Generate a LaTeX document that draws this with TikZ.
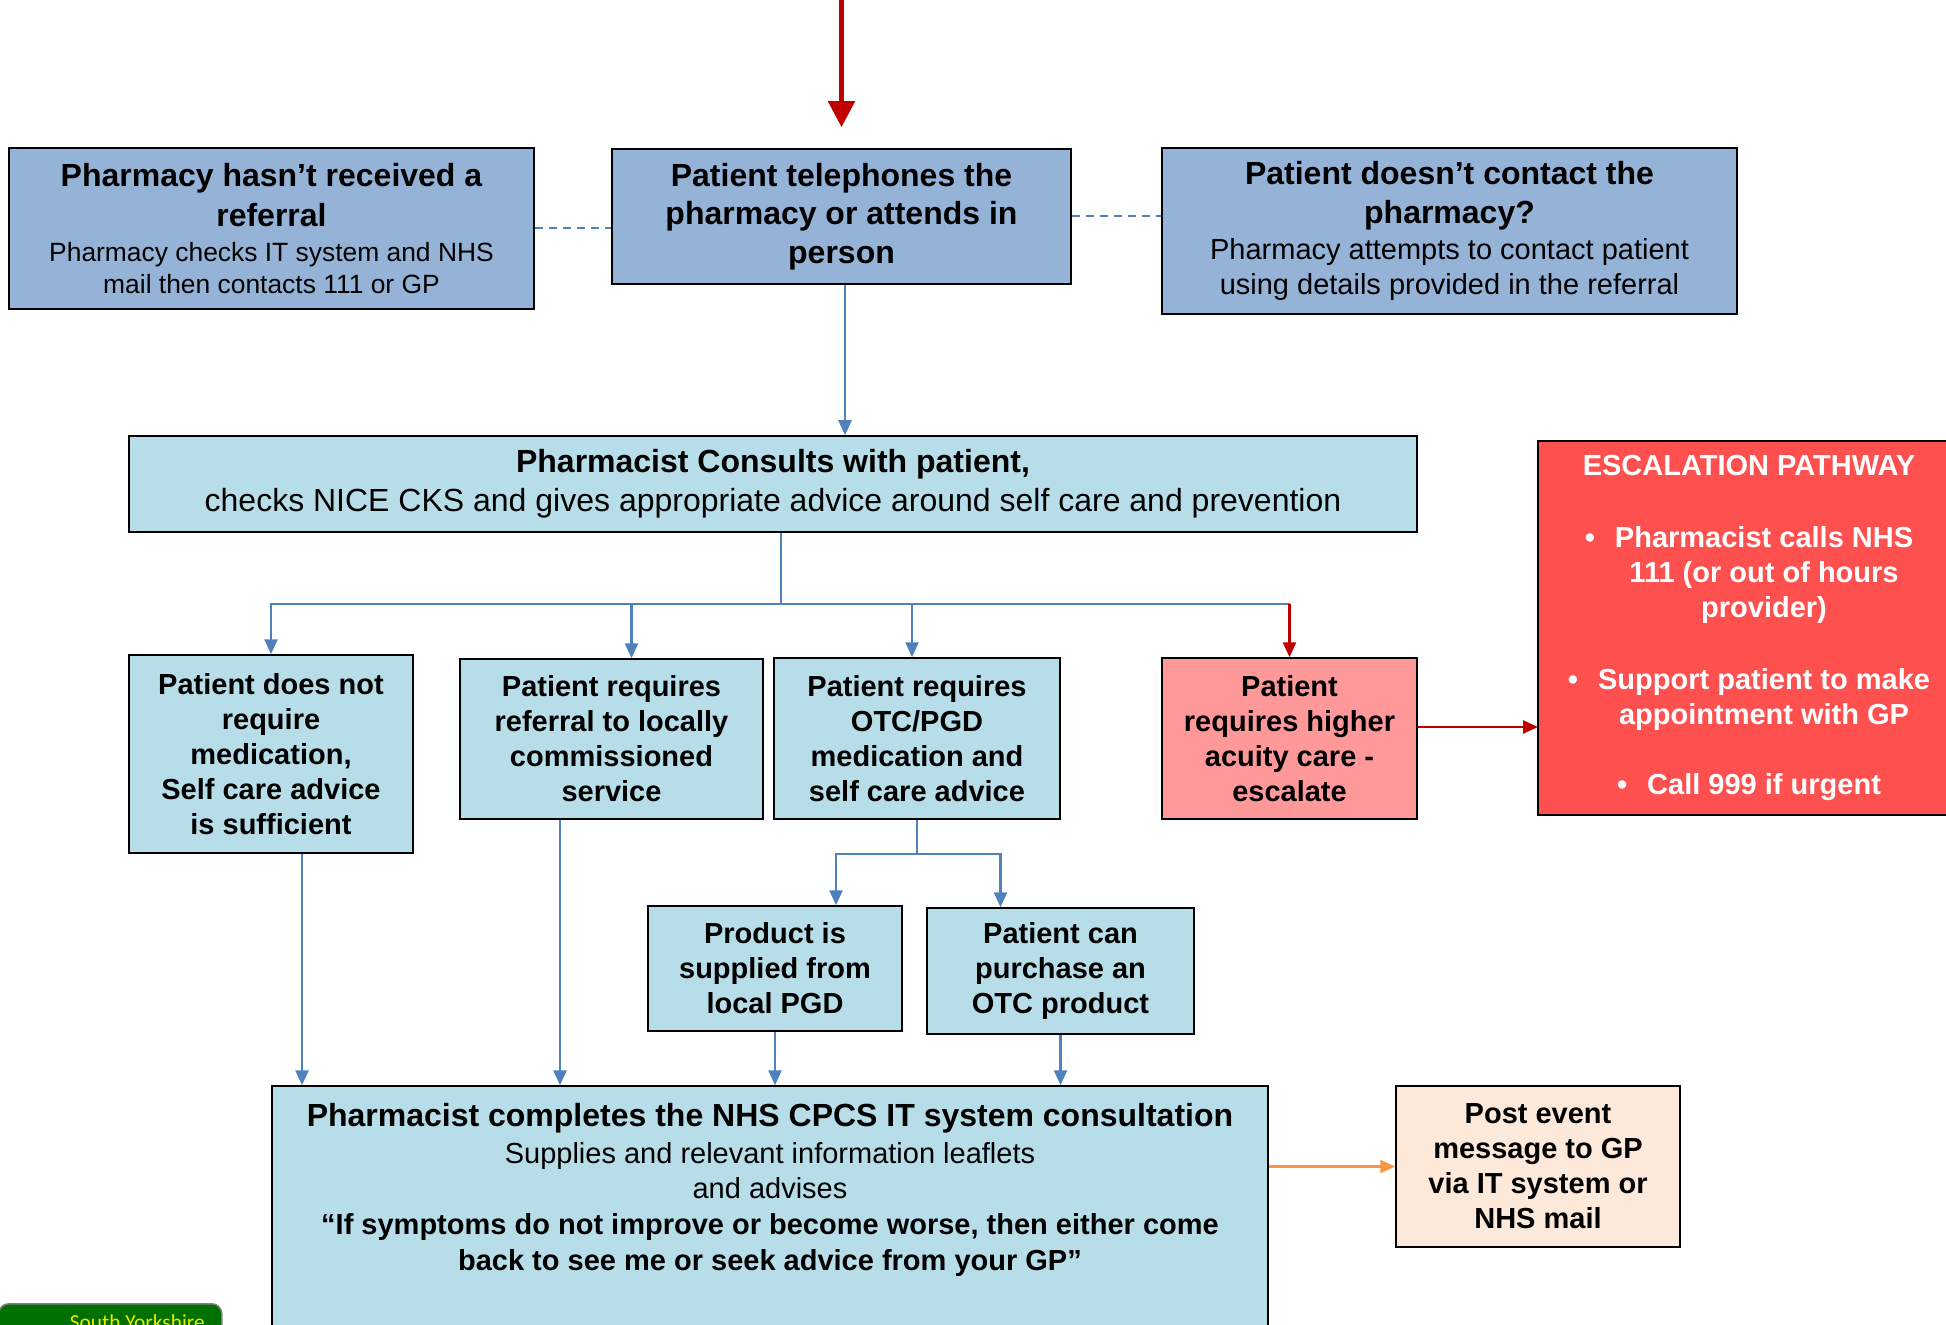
\documentclass[tikz,border=0pt]{standalone}
\usepackage{fontspec}
\setmainfont{Liberation Sans}
\newfontfamily\logofont{Carlito}
\usetikzlibrary{arrows.meta}

\definecolor{topblue}{RGB}{149,179,215}
\definecolor{paleblue}{RGB}{183,222,232}
\definecolor{linkblue}{RGB}{79,129,189}
\definecolor{alarmred}{RGB}{255,80,80}
\definecolor{softred}{RGB}{255,153,153}
\definecolor{darkred}{RGB}{192,0,0}
\definecolor{peach}{RGB}{253,233,217}
\definecolor{amber}{RGB}{247,150,70}
\definecolor{logogreen}{RGB}{0,112,0}
\definecolor{logoyellow}{RGB}{235,235,0}

\newcommand{\headfont}{\fontsize{16}{17.5}\selectfont\bfseries}
\newcommand{\bodyfont}{\fontsize{14.5}{17.5}\selectfont\bfseries}
\newcommand{\plainfont}{\fontsize{14.5}{17.5}\selectfont\mdseries}
\newcommand{\smallplain}{\fontsize{13.2}{17.5}\selectfont\mdseries}

\tikzset{every picture/.style={line width=0.75pt}}
\tikzset{
  querybox/.style={draw=black, fill=topblue, inner sep=0pt, align=center, font=\headfont},
  carebox/.style={draw=black, fill=paleblue, inner sep=0pt, align=center, font=\bodyfont},
  alertbox/.style={draw=black, fill=softred, inner sep=0pt, align=center, font=\bodyfont},
  escbox/.style={draw=black, fill=alarmred, text=white, inner sep=0pt, align=center, font=\bodyfont},
  notebox/.style={draw=black, fill=peach, inner sep=0pt, align=center, font=\bodyfont},
  flowline/.style={draw=linkblue, line width=1.25pt},
  flowarrow/.style={flowline, -{Triangle[width=6.5pt,length=7.5pt]}},
  alertarrow/.style={draw=darkred, line width=1.25pt, -{Triangle[width=6.5pt,length=7.5pt]}},
  notearrow/.style={draw=amber, line width=1.25pt, -{Triangle[width=6.5pt,length=7.5pt]}},
  dashlink/.style={draw=linkblue, line width=1pt, dash pattern=on 4pt off 3pt},
  entryarrow/.style={draw=darkred, line width=2.5pt, -{Triangle[width=13pt,length=13pt]}, shorten >=10.5pt},
}

\begin{document}
\begin{tikzpicture}[x=0.5pt,y=0.5pt,yscale=-1,xscale=1]
%set diagram left start at 0, and has height of 1325
\path[use as bounding box] (0,0) rectangle (1946,1325);
\clip (0,0) rectangle (1946,1325);

%Shape: Rectangle - first contact
\node[querybox, minimum width=229.5pt, minimum height=67.5pt] (phone) at (841.5,216.5) {Patient telephones the\\[1.75pt]pharmacy or attends in\\[1.75pt]person};
%Shape: Rectangle - no referral
\node[querybox, minimum width=262.5pt, minimum height=80.5pt] (hasnt) at (271.5,228.5) {Pharmacy hasn’t received a\\[2.5pt]referral\\\smallplain Pharmacy checks IT system and NHS\\[-1.5pt]\smallplain mail then contacts 111 or GP};
%Shape: Rectangle - no contact
\node[querybox, minimum width=287.5pt, minimum height=83pt] (nocontact) at (1449.5,231) {Patient doesn’t contact the\\[1.75pt]pharmacy?\\[0.5pt]\plainfont Pharmacy attempts to contact patient\\\plainfont using details provided in the referral};

%Shape: Rectangle - consultation
\node[carebox, font=\headfont, minimum width=644pt, minimum height=48pt] (consult) at (773,484) {Pharmacist Consults with patient,\\[2pt]\fontsize{16}{17.5}\selectfont\mdseries checks NICE CKS and gives appropriate advice around self care and prevention};

%Shape: Rectangle - escalation
\node[escbox, minimum width=211pt, minimum height=187pt] (escalate) at (1749,628) {ESCALATION PATHWAY\\[18.5pt]\textbullet\hspace{10pt}Pharmacist calls NHS\\\hspace*{15pt}111 (or out of hours\\\hspace*{15pt}provider)\\[18.5pt]\textbullet\hspace{10pt}Support patient to make\\\hspace*{15pt}appointment with GP\\[17.5pt]\textbullet\hspace{10pt}Call 999 if urgent};

%Shape: Rectangle - outcomes
\node[carebox, minimum width=142pt, minimum height=99pt] (nomed) at (271,754) {Patient does not\\require\\medication,\\Self care advice\\is sufficient};
\node[carebox, minimum width=151.5pt, minimum height=80pt] (referral) at (611.5,739) {Patient requires\\referral to locally\\commissioned\\service};
\node[carebox, minimum width=143pt, minimum height=80.5pt] (otc) at (917,738.5) {Patient requires\\OTC/PGD\\medication and\\self care advice};
\node[alertbox, minimum width=127.5pt, minimum height=80.5pt] (acuity) at (1289.5,738.5) {Patient\\requires higher\\acuity care -\\escalate};

%Shape: Rectangle - supply
\node[carebox, minimum width=127pt, minimum height=62.5pt] (pgd) at (775,968.5) {Product is\\supplied from\\local PGD};
\node[carebox, minimum width=133.5pt, minimum height=63pt] (purchase) at (1060.5,971) {Patient can\\purchase an\\OTC product};

%Shape: Rectangle - record
\node[carebox, minimum width=498pt, minimum height=127pt] (cpcs) at (770,1213) {};
\node[anchor=north, inner sep=0pt, align=center, font=\bodyfont] (cpcsnote) at (770,1103) {\headfont Pharmacist completes the NHS CPCS IT system consultation\\[1pt]\plainfont Supplies and relevant information leaflets\\\plainfont and advises\\[0.5pt]“If symptoms do not improve or become worse, then either come\\[0.5pt]back to see me or seek advice from your GP”};
\node[notebox, minimum width=142pt, minimum height=80.5pt] (postevent) at (1538,1166.5) {Post event\\message to GP\\via IT system or\\NHS mail};

%Shape: logo corner
\node[fill=logogreen, draw=gray, rounded corners=5pt, minimum width=111.5pt, minimum height=25pt, anchor=north west, inner sep=0pt] (logo) at (-2,1303) {};
\node[anchor=north west, inner sep=0pt, font=\logofont\fontsize{10.7}{12}\selectfont, text=logoyellow] (logoname) at (69,1314) {South Yorkshire};

%Straight Lines
\coordinate (entry) at (841.5,-10);
\coordinate (fork) at (781,604);
\coordinate (split) at (917,854);
\coordinate (escin) at (1538,727);
\draw[entryarrow] (entry) -- (phone.north);
\draw[dashlink] (hasnt.east) -- (hasnt.east -| phone.west);
\draw[dashlink] (phone.east) -- (phone.east -| nocontact.west);
\draw[flowarrow] ([xshift=1.75pt]phone.south) -- ([xshift=1.75pt]phone.south |- consult.north);

\draw[flowline] (consult.south -| fork) -- (fork);
\draw[flowarrow] (fork) -| (nomed.north);
\draw[flowarrow] (fork) -| ([xshift=10pt]referral.north);
\draw[flowarrow] (fork) -| ([xshift=-2.5pt]otc.north);
\draw[flowline] (fork) -- (fork -| acuity.north);
\draw[alertarrow] (fork -| acuity.north) -- (acuity.north);
\draw[alertarrow] (acuity.east |- escin) -- (escin);

\draw[flowline] (otc.south) -- (split);
\draw[flowarrow] (split) -| ([xshift=30.5pt]pgd.north);
\draw[flowarrow] (split) -| ([xshift=-30pt]purchase.north);

\draw[flowarrow] ([xshift=15.5pt]nomed.south) -- ([xshift=15.5pt]nomed.south |- cpcs.north);
\draw[flowarrow] ([xshift=-25.75pt]referral.south) -- ([xshift=-25.75pt]referral.south |- cpcs.north);
\draw[flowarrow] (pgd.south) -- (pgd.south |- cpcs.north);
\draw[flowarrow] (purchase.south) -- (purchase.south |- cpcs.north);
\draw[notearrow] (cpcs.east |- postevent.west) -- (postevent.west);

\end{tikzpicture}
\end{document}
